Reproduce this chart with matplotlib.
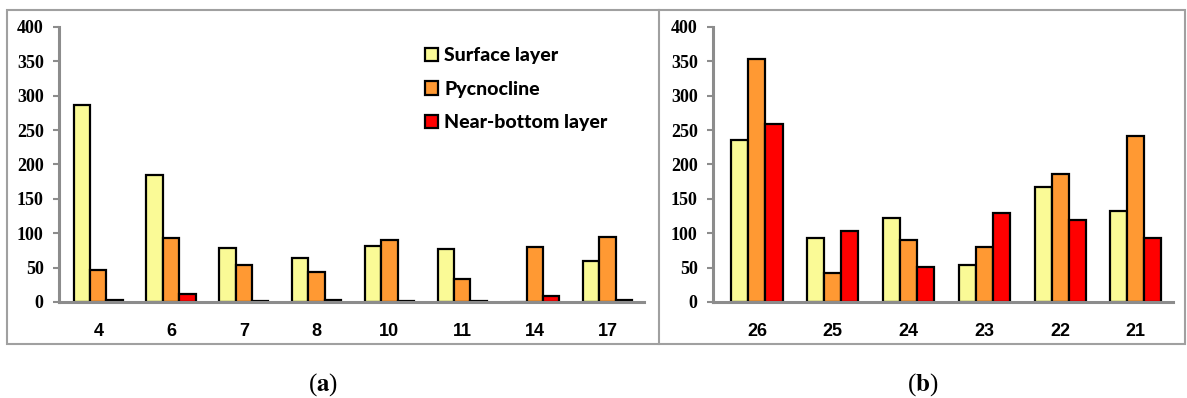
import numpy as np
import matplotlib
matplotlib.use('Agg')
from matplotlib import pyplot as plt
from matplotlib.patches import Rectangle
from matplotlib.lines import Line2D

# Panel (a) stations
stations_a = ['4', '6', '7', '8', '10', '11', '14', '17']
surface_a = [286, 185, 78, 64, 81, 77, 0, 60]
pycno_a = [47, 93, 54, 44, 90, 34, 80, 95]
bottom_a = [3, 12, 1, 3, 1, 1, 9, 3]

# Panel (b) stations
stations_b = ['26', '25', '24', '23', '22', '21']
surface_b = [236, 93, 122, 54, 167, 132]
pycno_b = [354, 42, 90, 80, 186, 242]
bottom_b = [259, 104, 51, 129, 119, 93]

labels = ['Surface layer', 'Pycnocline', 'Near-bottom layer']
colors = ['#FAFA96', '#FF9933', '#FF0000']

plt.rcParams['mathtext.fontset'] = 'stix'

fig = plt.figure(figsize=(11.87, 3.98), dpi=100)
W, H = 1187, 398


def px_axes(x0, x1, y_top, y_bot):
    return fig.add_axes([x0 / W, 1 - y_bot / H, (x1 - x0) / W, (y_bot - y_top) / H])


def draw_panel(ax, cats, series, xlim):
    x = np.arange(len(cats))
    w = 0.225
    for i, (vals, c) in enumerate(zip(series, colors)):
        ax.bar(x + (i - 1) * w, vals, width=w, color=c, edgecolor='black',
               linewidth=1.6, label=labels[i], zorder=2)
    ax.set_xlim(*xlim)
    ax.set_ylim(0, 400)
    ax.set_yticks(range(0, 401, 50))
    ax.set_xticks(x)
    ax.set_xticklabels(cats, fontfamily='Liberation Sans', fontweight='bold', fontsize=13)
    for t in ax.get_yticklabels():
        t.set_fontfamily('Liberation Serif')
        t.set_fontweight('bold')
        t.set_fontsize(13)
    for s in ['top', 'right']:
        ax.spines[s].set_visible(False)
    for s in ['left', 'bottom']:
        ax.spines[s].set_color('#8c8c8c')
        ax.spines[s].set_linewidth(2.2)
        ax.spines[s].set_zorder(2.5)
    ax.tick_params(axis='y', length=4, width=1.5, color='#8c8c8c', pad=7)
    ax.tick_params(axis='x', length=0, pad=15)
    ax.patch.set_alpha(0)


ax_a = px_axes(59, 644, 27, 302)
draw_panel(ax_a, stations_a, [surface_a, pycno_a, bottom_a], (-0.54, 7.5))

ax_b = px_axes(713, 1173, 27, 302)
draw_panel(ax_b, stations_b, [surface_b, pycno_b, bottom_b], (-0.58, 5.49))

ax_a.legend(loc='upper left', bbox_to_anchor=(0.595, 0.99), frameon=False,
            prop={'family': 'Lato', 'weight': 'black', 'size': 14},
            handlelength=0.7, handleheight=0.7, handletextpad=0.3, labelspacing=0.85)

# outer frame and divider
fig.patches.append(Rectangle((7 / W, 1 - 344 / H), (1185 - 7) / W, (344 - 10) / H,
                             transform=fig.transFigure, fill=False,
                             edgecolor='#a0a0a0', linewidth=1.5, zorder=0))
fig.lines.append(Line2D([659 / W, 659 / W], [1 - 344 / H, 1 - 10 / H],
                        transform=fig.transFigure, color='#a0a0a0', linewidth=1.5))

fig.text(323 / W, 1 - 385 / H, r'($\mathbf{a}$)', ha='center', va='center',
         fontsize=18, family='Liberation Serif')
fig.text(923 / W, 1 - 385 / H, r'($\mathbf{b}$)', ha='center', va='center',
         fontsize=18, family='Liberation Serif')

plt.savefig('out.png', dpi=100)
